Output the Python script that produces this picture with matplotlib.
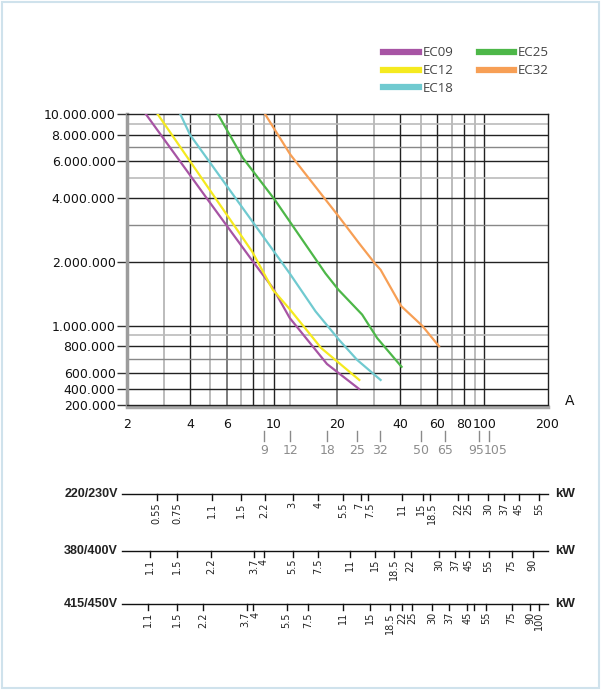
import numpy as np
import matplotlib
matplotlib.use("Agg")
import matplotlib.pyplot as plt
from matplotlib.transforms import blended_transform_factory, offset_copy

# curves: current (A) vs number of operations
ec09_a = [2.47, 4.9, 8.0, 9.9, 11.9, 17.9, 25.4]
ec09_n = [10e6, 3.9e6, 2.0e6, 1.51e6, 1.09e6, 6.6e5, 4.0e5]
ec12_a = [2.81, 7.9, 9.9, 11.9, 16.8, 25.5]
ec12_n = [10e6, 2.24e6, 1.48e6, 1.2e6, 7.85e5, 5.1e5]
ec18_a = [3.6, 4.0, 11.9, 15.8, 20.4, 24.9, 32.2]
ec18_n = [10e6, 8.0e6, 1.77e6, 1.17e6, 8.6e5, 6.9e5, 5.1e5]
ec25_a = [5.43, 7.13, 10.1, 17.6, 20.3, 26.3, 31.0, 40.5]
ec25_n = [10e6, 6.22e6, 3.95e6, 1.77e6, 1.48e6, 1.13e6, 8.75e5, 6.4e5]
ec32_a = [9.1, 12.0, 20.3, 25.4, 30.4, 32.2, 40.3, 50.8, 61.0]
ec32_n = [10e6, 6.44e6, 3.3e6, 2.46e6, 1.96e6, 1.84e6, 1.24e6, 1.0e6, 8.0e5]

names = ["EC09", "EC12", "EC18", "EC25", "EC32"]
colors = ["#a754a4", "#f5ea1f", "#70cad0", "#4db748", "#f79f55"]

x_ticks = [2, 4, 6, 10, 20, 40, 60, 80, 100, 200]
y_ticks = [2e5, 4e5, 6e5, 8e5, 1e6, 2e6, 4e6, 6e6, 8e6, 10e6]
rated_a = [9, 12, 18, 25, 32, 50, 65, 95, 105]

kw_220 = ["0.55", "0.75", "1.1", "1.5", "2.2", "3", "4", "5.5", "7", "7.5", "11",
          "15", "18.5", "22", "25", "30", "37", "45", "55"]
amp_220 = [2.78, 3.47, 5.11, 6.98, 9.04, 12.3, 16.3, 21.4, 26.1, 28.1, 40.5,
           51.4, 55.4, 75.4, 84.1, 104.7, 124, 146, 182]
kw_400 = ["1.1", "1.5", "2.2", "3.7", "4", "5.5", "7.5", "11", "15", "18.5", "22",
          "30", "37", "45", "55", "75", "90"]
amp_400 = [2.58, 3.47, 5.04, 8.08, 8.94, 12.3, 16.2, 23.0, 30.4, 37.2, 44.7,
           60.9, 72.6, 84.7, 105, 135, 170]
kw_450 = ["1.1", "1.5", "2.2", "3.7", "4", "5.5", "7.5", "11", "15", "18.5", "22",
          "25", "30", "37", "45", "", "55", "75", "90", "100"]
amp_450 = [2.52, 3.46, 4.63, 7.46, 8.01, 11.5, 14.5, 21.4, 28.6, 35.6, 40.8,
           45.5, 56.7, 68, 83.2, 89.4, 102, 135, 165, 182]
rows = [("220/230V", kw_220, amp_220), ("380/400V", kw_400, amp_400),
        ("415/450V", kw_450, amp_450)]

W, H = 601, 690
def fy(py):
    return 1 - py / H

# y axis: log above 600.000, squeezed linear below
K = 16.15 / 211.7
U0 = np.log10(6e5)
def fwd(v):
    v = np.asarray(v, float)
    return np.where(v >= 6e5, np.log10(np.maximum(v, 1.0)), U0 - (6e5 - v) / 2e5 * K)
def inv(u):
    u = np.asarray(u, float)
    return np.where(u >= U0, 10 ** np.minimum(u, 20), 6e5 - (U0 - u) / K * 2e5)

fig = plt.figure(figsize=(W / 100, H / 100), dpi=100)
fig.patches.append(plt.Rectangle((2 / W, 2 / H), 1 - 4 / W, 1 - 4 / H, transform=fig.transFigure,
                                 fill=False, edgecolor="#cfe2ec", lw=1.5))

ax = fig.add_axes([126.7 / W, fy(405), 420.8 / W, 290.7 / H])
ax.set_xscale("log")
ax.set_yscale("function", functions=(fwd, inv))
ax.set_xlim(2, 200)
ax.set_ylim(2e5, 1e7)

# grid
for v in [4, 8, 10, 40, 60, 80, 100]:
    ax.axvline(v, color="#222222", lw=1, zorder=1)
for v in [6, 20]:
    ax.axvline(v, color="#666666", lw=1.2, zorder=1)
for v in [3, 5, 7, 9, 12, 30, 50, 70, 90]:
    ax.axvline(v, color="#aaaaaa", lw=1.1, zorder=1)
for v in [4e5, 6e5, 8e5, 1e6, 2e6, 4e6, 6e6, 8e6]:
    ax.axhline(v, color="#222222", lw=1, zorder=1)
for v in [7e5, 3e6, 7e6]:
    ax.axhline(v, color="#888888", lw=1, zorder=1)
for v in [9e5, 5e6, 9e6]:
    ax.axhline(v, color="#bbbbbb", lw=1.2, zorder=1)
ax.axhline(2e5, color="#222222", lw=1, zorder=3, clip_on=False)

series = [(ec09_a, ec09_n), (ec12_a, ec12_n), (ec18_a, ec18_n), (ec25_a, ec25_n), (ec32_a, ec32_n)]
for (xa, yn), name, c in zip(series, names, colors):
    ax.plot(xa, yn, color=c, lw=1.6, label=name, zorder=4)

ax.set_xticks(x_ticks)
ax.set_xticklabels([str(v) for v in x_ticks])
ax.xaxis.set_minor_locator(matplotlib.ticker.NullLocator())
ax.set_yticks(y_ticks)
ax.set_yticklabels([f"{int(v):,}".replace(",", ".") for v in y_ticks])
ax.yaxis.set_minor_locator(matplotlib.ticker.NullLocator())
ax.tick_params(axis="x", length=0, pad=8, labelsize=9, colors="#111111")
ax.tick_params(axis="y", length=7, width=1, pad=1, labelsize=9, colors="#333333",
               labelcolor="#111111")

for s in ["top", "right"]:
    ax.spines[s].set_color("#222222")
    ax.spines[s].set_linewidth(1)
ax.spines["left"].set_color("#9c9c9c")
ax.spines["left"].set_linewidth(2.5)
ax.spines["bottom"].set_color("#a8a8a8")
ax.spines["bottom"].set_linewidth(2.5)
ax.spines["bottom"].set_position(("outward", 1.5))

fig.text(570 / W, fy(401), "A", fontsize=10, ha="center", va="center", color="#111111")

leg = ax.legend(loc="upper left", bbox_to_anchor=(383 / W, fy(46.5)), bbox_transform=fig.transFigure,
                ncol=2, frameon=False, borderpad=0, borderaxespad=0, handlelength=2.7,
                handletextpad=0.3, columnspacing=1.9, labelspacing=0.36,
                prop={"family": "Open Sans", "size": 9.5})
for h in leg.legend_handles:
    h.set_linewidth(4.5)
for t in leg.get_texts():
    t.set_color("#444444")

blend = blended_transform_factory(ax.transData, fig.transFigure)

# rated currents under the axis (labels of the two closest marks nudged apart)
nudge = {95: -3, 105: 7}
for v in rated_a:
    ax.plot([v, v], [fy(431), fy(441)], color="#8a8a8a", lw=1, transform=blend, clip_on=False)
    tr = offset_copy(blend, fig=fig, x=nudge.get(v, 0), y=0, units="dots")
    ax.text(v, fy(451), str(v), transform=tr, ha="center", va="center", fontsize=9,
            color="#8d8d8d")

# motor power scales; crowded neighbour labels pushed apart a little
row_y = [494.3, 551, 604]
row_nudge = [{"7": -2, "7.5": 2, "15": -2, "18.5": 2}, {}, {"3.7": -2, "4": 2}]
for (lab, kws, amps), py, nd in zip(rows, row_y, row_nudge):
    fig.add_artist(plt.Line2D([121.7 / W, 548.3 / W], [fy(py), fy(py)], color="#111111", lw=1))
    fig.text(118 / W, fy(py), lab, ha="right", va="center", fontsize=9, fontweight="bold",
             family="Liberation Sans", color="#222222")
    fig.text(555 / W, fy(py), "kW", ha="left", va="center", fontsize=9.5, fontweight="bold",
             family="Liberation Sans", color="#222222")
    for k, a in zip(kws, amps):
        ax.plot([a, a], [fy(py), fy(py + 6)], color="#111111", lw=1, transform=blend, clip_on=False)
        if k:
            tr = offset_copy(blend, fig=fig, x=nd.get(k, 0), y=0, units="dots")
            ax.text(a, fy(py + 8), k, transform=tr, rotation=90, ha="center", va="top",
                    fontsize=7, family="DejaVu Sans", color="#222222")

fig.savefig("out.png", dpi=100)
